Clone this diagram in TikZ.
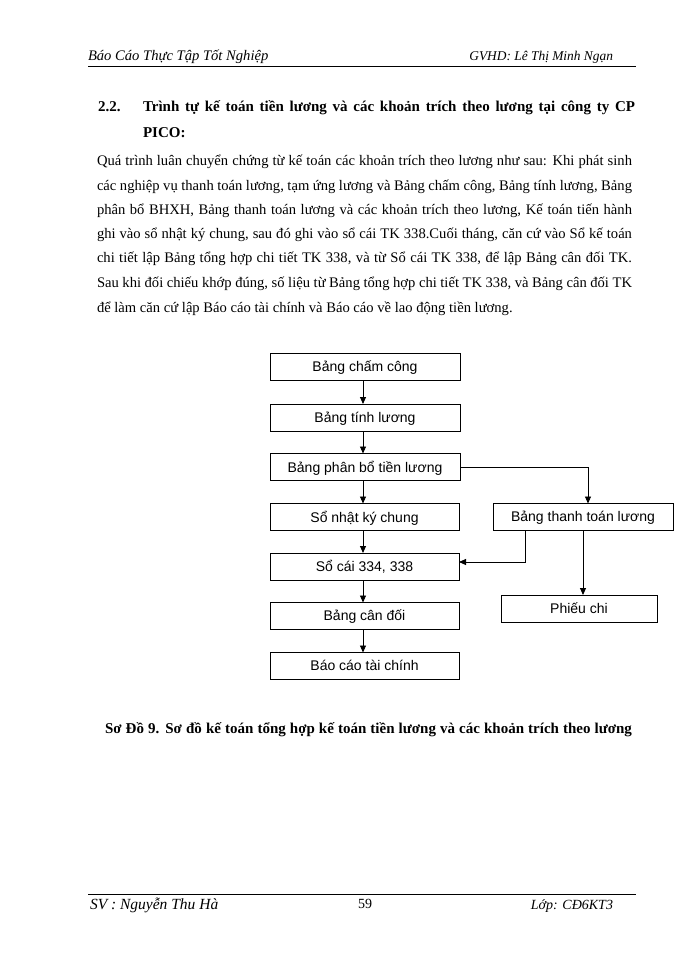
\documentclass[tikz,border=0pt]{standalone}
\usepackage{fontspec}
\setmainfont{Liberation Serif}
\newfontfamily\arialf{Liberation Sans}
\usetikzlibrary{arrows.meta}
\begin{document}
\begin{tikzpicture}[x=1pt,y=-1pt,
  every node/.style={inner sep=0pt,outer sep=0pt},
  fbox/.style={draw,line width=0.9pt,minimum height=27pt,text depth=1pt,font=\arialf\fontsize{14}{16}\selectfont},
  arr/.style={line width=0.9pt,-{Triangle[length=7pt,width=6pt]}},
  para/.style={anchor=base west,font=\fontsize{14.6}{17}\selectfont},
  bld/.style={anchor=base west,font=\bfseries\fontsize{15}{17}\selectfont}]
\fill[white] (0,0) rectangle (700,960);
% header
\node[anchor=base west,font=\itshape\fontsize{14.6}{16}\selectfont] (h1) at (88,61) {Báo Cáo Thực Tập Tốt Nghiệp};
\node[anchor=base east,font=\itshape\fontsize{13.4}{16}\selectfont] (h2) at (613,61) {GVHD: Lê Thị Minh Ngạn};
\draw[line width=0.8pt] (88,66) -- (636,66);
% heading
\node[bld] (sec) at (98,112) {2.2.};
\node[bld] (t1) at (143,112) {\makebox[492pt][s]{Trình tự kế toán tiền lương và các khoản trích theo lương tại công ty CP}};
\node[bld] (t2) at (143,138) {PICO:};
% paragraph
\node[para] (p1) at (97,166) {\makebox[535pt][s]{Quá trình luân chuyển chứng từ kế toán các khoản trích theo lương như sau: Khi phát sinh}};
\node[para] (p2) at (97,190) {\makebox[535pt][s]{các nghiệp vụ thanh toán lương, tạm ứng lương và Bảng chấm công, Bảng tính lương, Bảng}};
\node[para] (p3) at (97,214) {\makebox[535pt][s]{phân bổ BHXH, Bảng thanh toán lương và các khoản trích theo lương, Kế toán tiến hành}};
\node[para] (p4) at (97,238) {\makebox[535pt][s]{ghi vào sổ nhật ký chung, sau đó ghi vào sổ cái TK 338.Cuối tháng, căn cứ vào Sổ kế toán}};
\node[para] (p5) at (97,262) {\makebox[535pt][s]{chi tiết lập Bảng tổng hợp chi tiết TK 338, và từ Sổ cái TK 338, để lập Bảng cân đối TK.}};
\node[para] (p6) at (97,287) {\makebox[535pt][s]{Sau khi đối chiếu khớp đúng, số liệu từ Bảng tổng hợp chi tiết TK 338, và Bảng cân đối TK}};
\node[para] (p7) at (97,312) {để làm căn cứ lập Báo cáo tài chính và Báo cáo về lao động tiền lương.};
% diagram
\node[fbox,minimum width=190pt] (b1) at (365,367) {Bảng chấm công};
\node[fbox,minimum width=190pt] (b2) at (365,417.5) {Bảng tính lương};
\node[fbox,minimum width=190pt] (b3) at (365,467) {Bảng phân bổ tiền lương};
\node[fbox,minimum width=189pt] (b4) at (364.5,517) {Sổ nhật ký chung};
\node[fbox,minimum width=189pt] (b5) at (364.5,566.5) {Sổ cái 334, 338};
\node[fbox,minimum width=189pt] (b6) at (364.5,616) {Bảng cân đối};
\node[fbox,minimum width=189pt] (b7) at (364.5,666) {Báo cáo tài chính};
\node[fbox,minimum width=180pt] (bt) at (583,517) {Bảng thanh toán lương};
\node[fbox,minimum width=156pt] (pc) at (579,608.5) {Phiếu chi};
\draw[arr] ([xshift=-2pt]b1.south) -- ([xshift=-2pt]b2.north);
\draw[arr] ([xshift=-2pt]b2.south) -- ([xshift=-2pt]b3.north);
\draw[arr] ([xshift=-2pt]b3.south) -- ([xshift=-2pt]b3.south |- b4.north);
\draw[arr] ([xshift=-1.5pt]b4.south) -- ([xshift=-1.5pt]b5.north);
\draw[arr] ([xshift=-1.5pt]b5.south) -- ([xshift=-1.5pt]b6.north);
\draw[arr] ([xshift=-1.5pt]b6.south) -- ([xshift=-1.5pt]b7.north);
\draw[arr] (b3.east) -| ([xshift=5pt]bt.north);
\draw[arr] ([xshift=-58pt]bt.south) |- ([yshift=4.5pt]b5.east);
\draw[arr] (bt.south) -- (bt.south |- pc.north);
% caption
\node[bld] (cap) at (105,733) {\makebox[527pt][s]{Sơ Đồ 9. Sơ đồ kế toán tổng hợp kế toán tiền lương và các khoản trích theo lương}};
% footer
\draw[line width=0.8pt] (88,894) -- (636,894);
\node[anchor=base west,font=\itshape\fontsize{15.5}{17}\selectfont] (f1) at (90,909) {SV : Nguyễn Thu Hà};
\node[anchor=base,font=\fontsize{14}{16}\selectfont] (f2) at (365,908) {59};
\node[anchor=base east,font=\itshape\fontsize{14}{16}\selectfont] (f3) at (613,909) {Lớp: CĐ6KT3};
\end{tikzpicture}
\end{document}
